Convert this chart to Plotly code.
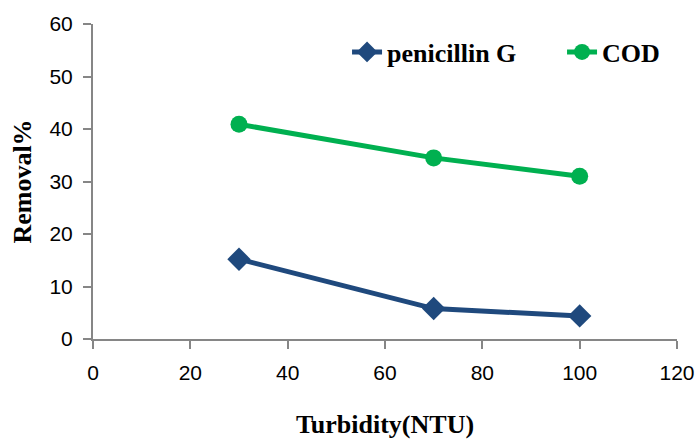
import plotly.graph_objects as go

turbidity = [30, 70, 100]
penicillin = [15.2, 5.8, 4.4]
cod = [40.9, 34.5, 31.0]

fig = go.Figure()
fig.add_trace(go.Scatter(x=turbidity, y=penicillin, name="penicillin G", mode="lines+markers",
                         line=dict(color="#1F497D", width=5),
                         marker=dict(symbol="diamond", size=18, color="#1F497D")))
fig.add_trace(go.Scatter(x=turbidity, y=cod, name="COD", mode="lines+markers",
                         line=dict(color="#00B050", width=5),
                         marker=dict(symbol="circle", size=17, color="#00B050")))

axis_common = dict(showline=True, linecolor="#868686", linewidth=2, ticks="outside",
                   ticklen=8, tickwidth=1.5, tickcolor="#868686", showgrid=False, zeroline=False,
                   automargin=False, ticklabelstandoff=6,
                   tickfont=dict(family="Liberation Sans, Arial", size=21, color="#000000"))
title_font = dict(family="Liberation Serif, Times New Roman", size=26, color="#000", weight="bold")
fig.update_xaxes(range=[0, 120], dtick=20, **axis_common,
                 title=dict(text="Turbidity(NTU)", standoff=36, font=title_font))
fig.update_yaxes(range=[0, 60], dtick=10, **axis_common,
                 title=dict(text="Removal%", standoff=10, font=title_font))

fig.update_layout(
    width=697, height=439,
    margin=dict(l=93, r=20, t=24, b=100, autoexpand=False),
    plot_bgcolor="white", paper_bgcolor="white",
    legend=dict(orientation="h", x=0.435, y=0.911, xanchor="left", yanchor="middle",
                entrywidth=170, entrywidthmode="pixels",
                font=dict(family="Liberation Serif, Times New Roman", size=26, color="#000", weight="bold"),
                bgcolor="rgba(0,0,0,0)"),
)
fig.write_html("out.html")
